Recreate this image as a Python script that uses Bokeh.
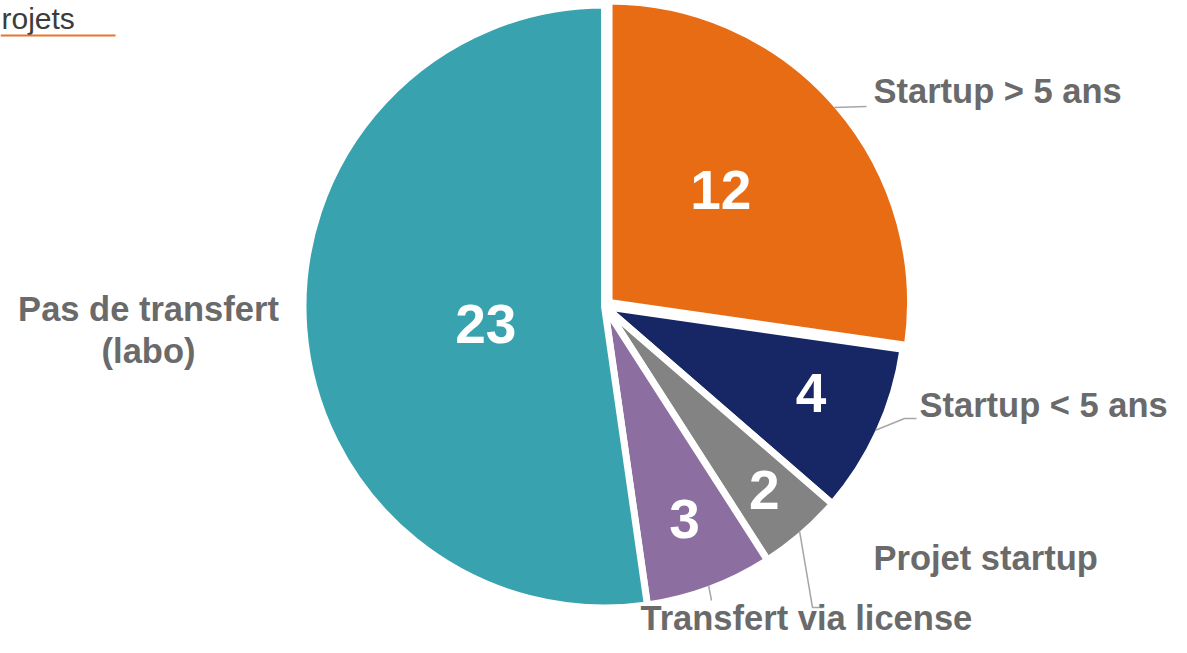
import math
from bokeh.plotting import figure
from bokeh.models import Range1d
from bokeh.core.properties import value
from bokeh.embed import file_html
from bokeh.resources import INLINE

# ---------------- data ----------------
title_text = "rojets"          # only this part of the title is visible
categories = ["Startup > 5 ans", "Startup < 5 ans", "Projet startup",
              "Transfert via license", "Pas de transfert\n(labo)"]
counts = [12, 4, 2, 3, 23]
colors = ["#E86C13", "#172765", "#838383", "#8C6EA0", "#38A3AF"]

# ---------------- layout (picture pixels) ----------------
W, H = 1171, 637
PAGE_H = 653
CX, CY = 604, 306          # pie centre
R_VIS = 298                # visible radius
BORDER = 7                 # white separator width
explode = [6, 0, 0, 0, 0]  # per slice explosion
# number label placement: (radius from slice centre, angle offset in degrees)
num_pos = [(159, -4.4), (224, -1.7), (243, -0.2), (227, -0.2), (120, -4.5)]
# leader line elbows / ends for the outside labels
leaders = [[(866, 106)], [(904, 418), (916, 418)], [(812, 607), (823, 607)],
           [(711, 600)], []]
# outside labels: (x, cap-centre y, align)
lab_pos = [(873, 90, "left"), (919, 404, "left"), (873, 557, "left"),
           (640, 617, "left"), (148, 308, "center")]
LAB_SIZE = 34.5
LINE_GAP = 42
NUM_SIZE = 55
TITLE_SIZE = 30


def Y(sy):
    return PAGE_H - sy


p = figure(width=W, height=H, x_range=Range1d(0, W),
           y_range=Range1d(PAGE_H - H, PAGE_H),
           x_axis_type=None, y_axis_type=None,
           output_backend="svg", toolbar_location=None, min_border=0)
p.grid.visible = False
p.outline_line_color = None
p.background_fill_color = "white"
p.border_fill_color = "white"

total = float(sum(counts))
cum = 0.0
centres = []
mids = []
for i, c in enumerate(counts):
    a0 = cum / total * 360.0
    a1 = (cum + c) / total * 360.0
    cum += c
    mid = (a0 + a1) / 2.0
    mids.append(mid)
    ox = explode[i] * math.sin(math.radians(mid))
    oy = -explode[i] * math.cos(math.radians(mid))
    sx, sy = CX + ox, CY + oy
    centres.append((sx, sy))
    p.wedge(x=sx, y=Y(sy), radius=R_VIS + BORDER / 2,
            start_angle=math.radians(90 - a1), end_angle=math.radians(90 - a0),
            fill_color=colors[i], line_color="white", line_width=BORDER,
            line_join="round")

# number labels
for i, c in enumerate(counts):
    r, off = num_pos[i]
    ang = math.radians(mids[i] + off)
    sx = centres[i][0] + r * math.sin(ang)
    sy = centres[i][1] - r * math.cos(ang)
    p.text(x=[sx], y=[Y(sy)], text=[str(c)],
           text_font=value("Liberation Sans"), text_font_style="bold",
           text_font_size=f"{NUM_SIZE}px", text_color="white",
           text_align="center", text_baseline="middle")

# leader lines
for i, pts in enumerate(leaders):
    if not pts:
        continue
    ang = math.radians(mids[i])
    sx0 = centres[i][0] + R_VIS * math.sin(ang)
    sy0 = centres[i][1] - R_VIS * math.cos(ang)
    xs = [sx0] + [q[0] for q in pts]
    ys = [Y(sy0)] + [Y(q[1]) for q in pts]
    p.line(xs, ys, line_color="#A6A6A6", line_width=1.5)

# outside labels
for i, cat in enumerate(categories):
    x, cy_, al = lab_pos[i]
    for k, ln in enumerate(cat.split("\n")):
        p.text(x=[x], y=[Y(cy_ + k * LINE_GAP)], text=[ln],
               text_font=value("Liberation Sans"), text_font_style="bold",
               text_font_size=f"{LAB_SIZE}px", text_color="#6A6A6A",
               text_align=al, text_baseline="middle")

# partial title at top-left
p.text(x=[1], y=[Y(17.5)], text=[title_text],
       text_font=value("Liberation Sans"), text_font_size=f"{TITLE_SIZE}px",
       text_color="#3C3C3C", text_align="left", text_baseline="middle")
p.line([0, 115], [Y(35), Y(35)], line_color="#E8752A", line_width=2)

open("out.html", "w").write(file_html(p, INLINE))
